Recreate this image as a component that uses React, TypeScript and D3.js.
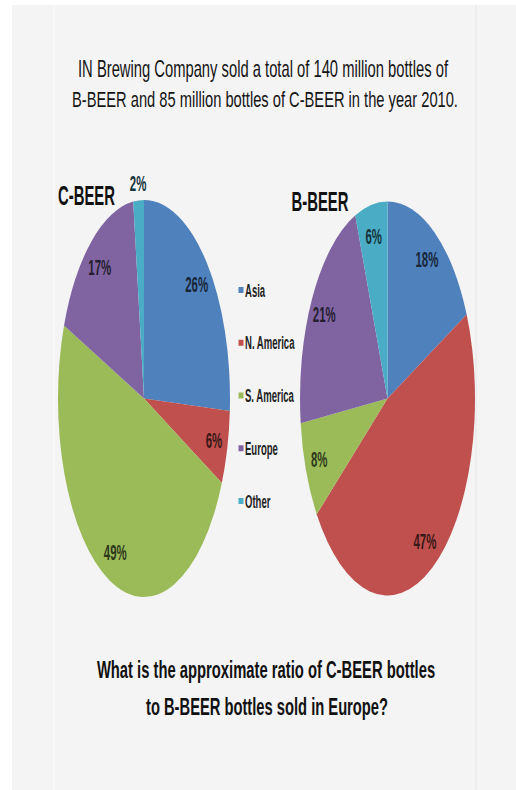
import React, { useLayoutEffect, useRef } from 'react';
import * as d3 from 'd3';

const W = 516;
const H = 790;

const regions = ['Asia', 'N. America', 'S. America', 'Europe', 'Other'];
const colors = ['#4f81bd', '#c0504d', '#9bbb59', '#8064a2', '#4bacc6'];
const cBeer = [26, 6, 49, 17, 2];
const bBeer = [18, 47, 8, 21, 6];

const titleLines = [
  'IN Brewing Company sold a total of 140 million bottles of',
  'B-BEER and 85 million bottles of C-BEER in the year 2010.'
];
const questionLines = [
  'What is the approximate ratio of C-BEER bottles',
  'to B-BEER bottles sold in Europe?'
];

const FONT = '"Liberation Sans", Arial, sans-serif';
const R = 100; // base radius, squashed into an ellipse below

const color = d3.scaleOrdinal<string, string>().domain(regions).range(colors);

function Squeezed({ x, y, sx, size, weight, fill, anchor, children }: any) {
  return (
    <text
      transform={`translate(${x},${y}) scale(${sx},1)`}
      fontFamily={FONT}
      fontSize={size}
      fontWeight={weight}
      fill={fill}
      textAnchor={anchor || 'middle'}
    >
      {children}
    </text>
  );
}

// centred text squeezed horizontally to a measured width
function FitText({ x, y, width, size, weight, fill, children }: any) {
  const ref = useRef<SVGTextElement>(null);
  useLayoutEffect(() => {
    const el = ref.current;
    if (!el) return;
    const natural = el.getComputedTextLength();
    const sx = natural > 0 ? width / natural : 0.6;
    el.setAttribute('transform', `translate(${x},${y}) scale(${sx},1)`);
  }, [x, y, width]);
  return (
    <text
      ref={ref}
      transform={`translate(${x},${y}) scale(0.6,1)`}
      fontFamily={FONT}
      fontSize={size}
      fontWeight={weight}
      fill={fill}
      textAnchor="middle"
    >
      {children}
    </text>
  );
}

function Pie({ values, name, cx, cy, rx, ry, nameX, nameY }: any) {
  const pie = d3.pie<number>().sort(null).value(d => d);
  const arcs = pie(values);
  const arc = d3.arc<d3.PieArcDatum<number>>().innerRadius(0).outerRadius(R);
  const inLabel = d3.arc<d3.PieArcDatum<number>>().innerRadius(R * 0.84).outerRadius(R * 0.84);
  const outLabel = d3.arc<d3.PieArcDatum<number>>().innerRadius(R * 1.09).outerRadius(R * 1.09);
  const sx = rx / R, sy = ry / R;

  return (
    <g>
      <g transform={`translate(${cx},${cy}) scale(${sx},${sy})`}>
        {arcs.map((a, i) => (
          <path key={i} d={arc(a) || ''} fill={color(regions[i])} />
        ))}
      </g>
      {arcs.map((a, i) => {
        const [lx, ly] = (a.data < 3 ? outLabel : inLabel).centroid(a);
        const c = d3.color(color(regions[i]))!.darker(3.4).formatHex();
        return (
          <Squeezed key={i} x={cx + lx * sx} y={cy + ly * sy + 8} sx={0.52} size={22} weight="bold" fill={c}>
            {a.data + '%'}
          </Squeezed>
        );
      })}
      <Squeezed x={nameX} y={nameY} sx={0.53} size={28} weight="bold" fill="#111">
        {name}
      </Squeezed>
    </g>
  );
}

export default function App() {
  const legendY = d3.scalePoint<string>().domain(regions).range([290, 501]);

  return (
    <div>
      <svg width={W} height={H} style={{ position: 'absolute', left: 0, top: 0 }}>
        <rect x={0} y={0} width={W} height={H} fill="#ffffff" />
        <rect x={12} y={5} width={W - 12} height={H - 5} fill="#f4f4f4" />
        <line x1={54} x2={54} y1={5} y2={H} stroke="#f8f8f8" strokeWidth={2} />
        <line x1={476} x2={476} y1={5} y2={H} stroke="#ebebeb" strokeWidth={1.5} />

        {titleLines.map((t, i) => (
          <FitText key={i} x={i === 0 ? 263 : 265} y={77 + i * 30} width={i === 0 ? 370 : 386} size={23} weight="normal" fill="#141414">
            {t}
          </FitText>
        ))}

        <Pie values={cBeer} name="C-BEER" cx={144} cy={398.5} rx={86} ry={198.5} nameX={86.5} nameY={205} />
        <Pie values={bBeer} name="B-BEER" cx={387.5} cy={398.5} rx={87.5} ry={197} nameX={320} nameY={211} />

        {regions.map(r => (
          <g key={r}>
            <rect x={238.5} y={legendY(r)! - 3} width={5} height={6} fill={color(r)} />
            <Squeezed x={245} y={legendY(r)! + 6.5} sx={0.53} size={18} weight="bold" fill="#222" anchor="start">
              {r}
            </Squeezed>
          </g>
        ))}

        {questionLines.map((t, i) => (
          <FitText key={i} x={i === 0 ? 266 : 267} y={678 + i * 37} width={i === 0 ? 338 : 242} size={23} weight="bold" fill="#111">
            {t}
          </FitText>
        ))}
      </svg>
    </div>
  );
}
